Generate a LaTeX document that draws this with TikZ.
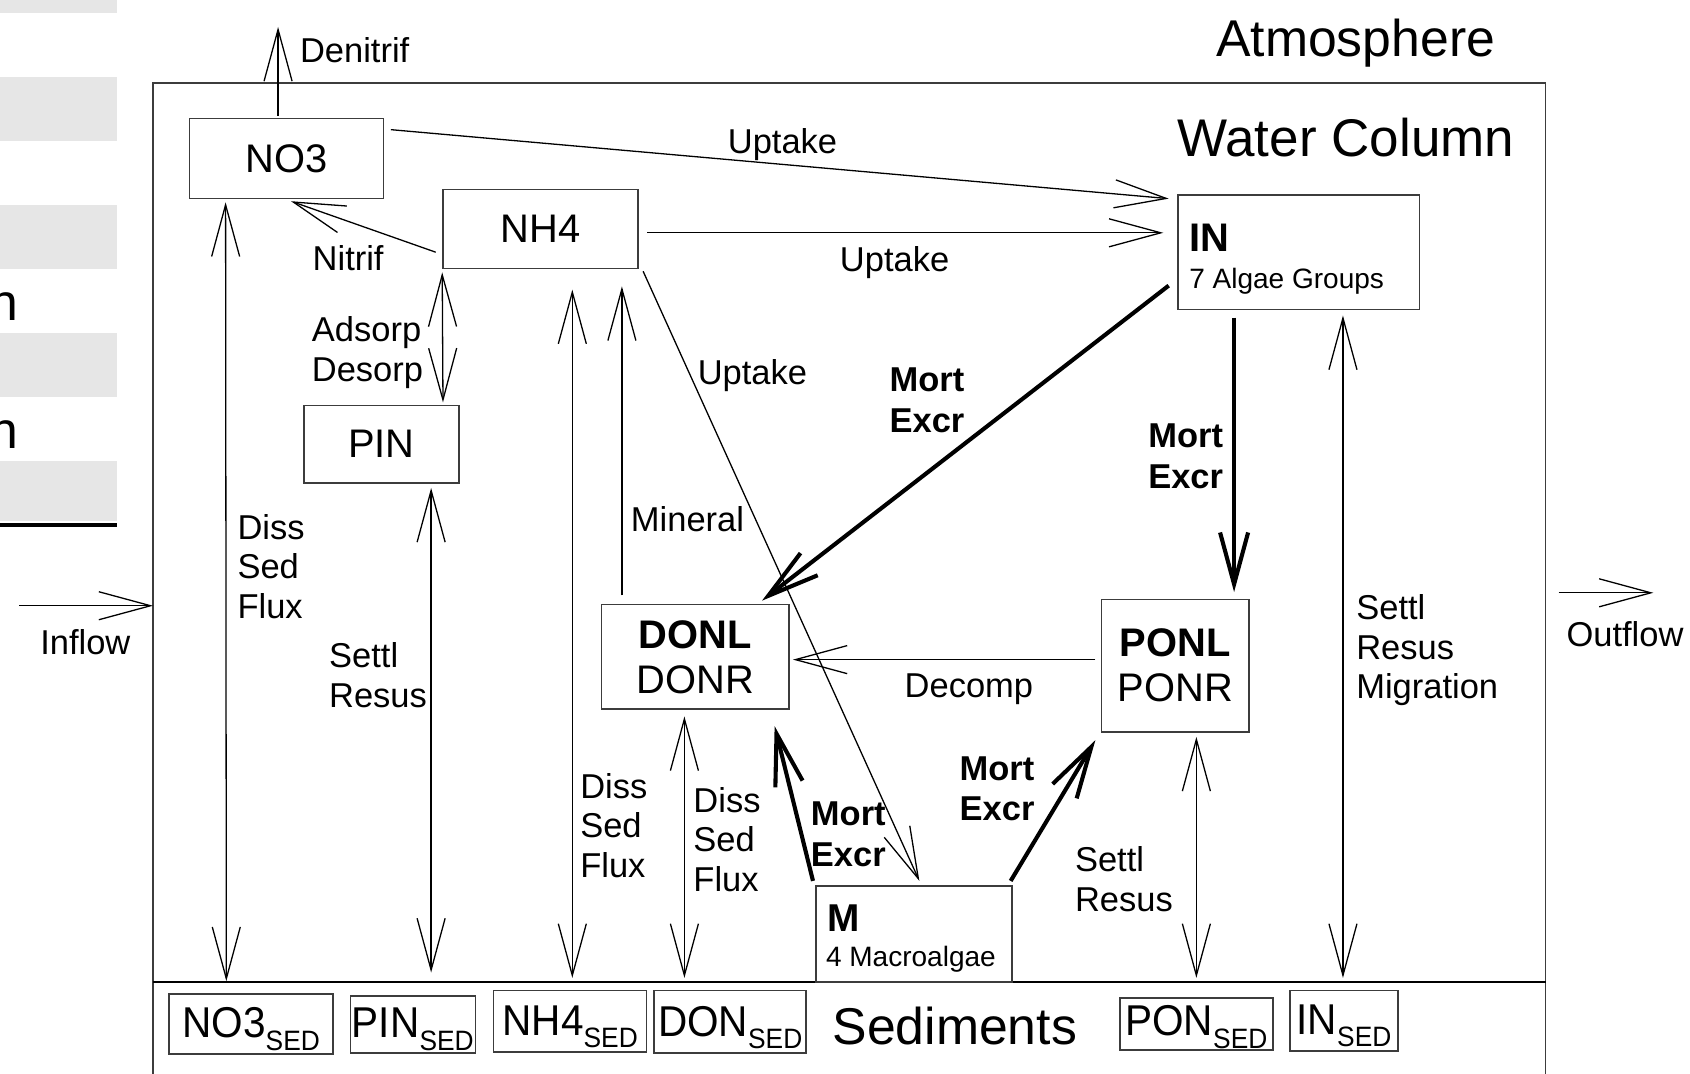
\documentclass[tikz,border=0pt]{standalone}
\usepackage{fontspec}
\setmainfont{Liberation Sans}
\usetikzlibrary{arrows.meta,calc}
\definecolor{panelgray}{RGB}{230,230,230}
\definecolor{framegray}{RGB}{60,60,60}
\newcommand{\sedtxt}[1]{\scalebox{0.94}[1]{\fontsize{20}{20}\selectfont #1\raisebox{-5.75pt}{\fontsize{13}{13}\selectfont SED}}}
\begin{document}
\begin{tikzpicture}[x={(0.5pt,0)},y={(0,-0.5pt)},
  box/.style={draw=framegray,line width=0.7pt,inner sep=0pt,font=\fontsize{18.5}{21}\selectfont,align=center},
  sbox/.style={draw=framegray,line width=0.7pt,inner sep=0pt,text depth=0pt},
  ln/.style={line width=0.6pt},
  thk/.style={line width=1.9pt},
  tipA/.style={-{Straight Barb[length=24pt,width=13pt]}},
  tipB/.style={{Straight Barb[length=24pt,width=13pt]}-{Straight Barb[length=24pt,width=13pt]}},
  lbl/.style={inner sep=0pt,anchor=base west,font=\fontsize{16}{18}\selectfont},
  blbl/.style={inner sep=0pt,anchor=base west,font=\fontsize{16}{18}\selectfont\bfseries},
  big/.style={inner sep=0pt,anchor=base west,font=\fontsize{24}{26}\selectfont},
  small/.style={inner sep=0pt,anchor=base west,font=\fontsize{13}{15}\selectfont}]
\useasboundingbox (0,0) rectangle (1568,996);
% left panel remnants
\fill[panelgray] (0,0) rectangle (109,11.6);
\fill[panelgray] (0,71.4) rectangle (109,130.8);
\fill[panelgray] (0,190.3) rectangle (109,249.6);
\fill[panelgray] (0,309) rectangle (109,368);
\fill[panelgray] (0,427.7) rectangle (109,483.4);
\fill[black] (0,485.5) rectangle (109,489);
\node[inner sep=0pt,anchor=base east,font=\fontsize{24}{24}\selectfont] (fragA) at (17,297) {n};
\node[inner sep=0pt,anchor=base east,font=\fontsize{24}{24}\selectfont] (fragB) at (17,416) {n};
% frame
\draw[framegray,line width=0.8pt] (142,996) -- (142,77) -- (1434,77) -- (1434,996);
\draw[ln] (142,911) -- (1434,911);
% titles
\node[big] (atmos) at (1128,52) {Atmosphere};
\node[big,font=\fontsize{24.6}{26}\selectfont] (water) at (1092,145) {Water Column};
\node[big] (sedim) at (772,969) {Sediments};
% boxes
\node[box,minimum width=90pt,minimum height=37pt] (no3) at (266,147) {NO3};
\node[box,minimum width=90.5pt,minimum height=36.5pt] (nh4) at (501.5,212.5) {NH4};
\node[box,minimum width=112pt,minimum height=53pt] (in) at (1205,234) {};
\node[inner sep=0pt,anchor=base west,font=\fontsize{18.5}{21}\selectfont\bfseries] (inT) at (1103,233) {IN};
\node[small] (inS) at (1103,268) {7 Algae Groups};
\node[box,minimum width=72pt,minimum height=36pt] (pin) at (354,412) {PIN};
\node[box,minimum width=87pt,minimum height=48.5pt] (don) at (645,609.5) {{\bfseries DONL}\\DONR};
\node[box,minimum width=68.5pt,minimum height=61.5pt] (pon) at (1090.5,617.5) {{\bfseries PONL}\\PONR};
\node[box,minimum width=91pt,minimum height=44.5pt] (mac) at (848,866.5) {};
\node[inner sep=0pt,anchor=base west,font=\fontsize{18}{21}\selectfont\bfseries] (macT) at (767,864) {M};
\node[small] (macS) at (766,897) {4 Macroalgae};
% sediment boxes
\node[sbox,minimum width=76pt,minimum height=28pt,text height=12.9pt] (no3s) at (233,950) {\sedtxt{NO3}};
\node[sbox,minimum width=58pt,minimum height=26.5pt,text height=12.2pt] (pins) at (383,950.5) {\sedtxt{PIN}};
\node[sbox,minimum width=71pt,minimum height=28.5pt,text height=13.1pt] (nh4s) at (529,947.5) {\sedtxt{NH4}};
\node[sbox,minimum width=70.5pt,minimum height=29pt,text height=13.3pt] (dons) at (677.5,948) {\sedtxt{DON}};
\node[sbox,minimum width=71pt,minimum height=24pt,text height=11pt] (pons) at (1110,950) {\sedtxt{PON}};
\node[sbox,minimum width=50pt,minimum height=28pt,text height=12.9pt] (ins) at (1247,947) {\sedtxt{IN}};
% connectors
\coordinate (atm) at (258,25);
\draw[ln,tipA] ($(no3.north)+(-8,-2)$) -- (atm);
\node[lbl] (denit) at (278,58) {Denitrif};
\draw[ln,tipA] ($(no3.north east)+(6,11)$) -- ($(in.north west)+(-8,4)$);
\node[lbl,anchor=base] (up1) at (726,142) {Uptake};
\draw[ln,tipA] ($(nh4.east)+(8,3.5)$) -- ($(in.west)+(-13,-18)$);
\node[lbl,anchor=base] (up2) at (830,252) {Uptake};
\draw[ln,tipA] ($(nh4.west)+(-6,21.5)$) -- ($(no3.south)+(4,2)$);
\node[lbl,anchor=base] (nitr) at (323,251) {Nitrif};
\draw[ln,tipB] ($(nh4.south west)+(0,3)$) -- ($(pin.north)+(57,-2)$);
\node[lbl] (ads1) at (289,317) {Adsorp};
\node[lbl] (ads2) at (289,354) {Desorp};
\draw[ln,tipB] ($(no3.south west)+(34,3)$) -- ($(no3s.north)+(-23,-11)$);
\node[lbl] (d1a) at (220,501) {Diss};
\node[lbl] (d1b) at (220,537) {Sed};
\node[lbl] (d1c) at (220,574) {Flux};
\draw[ln,tipB] ($(pin.south)+(46,4)$) -- ($(pins.north)+(17,-21)$);
\node[lbl] (s1a) at (305,619) {Settl};
\node[lbl] (s1b) at (305,656) {Resus};
\draw[ln,tipB] ($(nh4.south)+(29.5,19)$) -- ($(nh4s.north)+(2,-11)$);
\node[lbl] (d2a) at (538,741) {Diss};
\node[lbl] (d2b) at (538,777) {Sed};
\node[lbl] (d2c) at (538,814) {Flux};
\draw[ln,tipA] ($(don.north)+(-68,-8)$) -- ($(nh4.south)+(75.5,16)$);
\node[lbl] (mine) at (585,493) {Mineral};
\draw[ln,tipA] ($(nh4.south east)+(4,2)$) -- ($(mac.north)+(5,-4)$);
\node[lbl] (up3) at (647,357) {Uptake};
\draw[thk,tipA] ($(in.west)+(-8,31)$) -- ($(don.north)+(62,-3)$);
\node[blbl] (me1a) at (825,363) {Mort};
\node[blbl] (me1b) at (825,401) {Excr};
\draw[thk,tipA] ($(in.south)+(-60,7)$) -- ($(pon.north)+(54.5,-6)$);
\node[blbl] (me2a) at (1065,415) {Mort};
\node[blbl] (me2b) at (1065,453) {Excr};
\draw[ln,tipB] ($(in.south)+(41,5)$) -- ($(ins.north)+(-1,-11)$);
\node[lbl] (s3a) at (1258,575) {Settl};
\node[lbl] (s3b) at (1258,612) {Resus};
\node[lbl] (s3c) at (1258,648) {Migration};
\draw[ln,tipA] ($(pon.west)+(-5,-5.5)$) -- ($(don.east)+(3,2.5)$);
\node[lbl] (deco) at (839,647) {Decomp};
\draw[ln,tipB] ($(don.south)+(-10,6)$) -- ($(dons.north)+(-42.5,-11)$);
\node[lbl] (d3a) at (643,754) {Diss};
\node[lbl] (d3b) at (643,790) {Sed};
\node[lbl] (d3c) at (643,827) {Flux};
\draw[thk,tipA] ($(mac.north west)+(-2,-4)$) -- ($(don.south east)+(-14,15)$);
\node[blbl] (me3a) at (752,766) {Mort};
\node[blbl] (me3b) at (752,804) {Excr};
\draw[thk,tipA] ($(mac.north east)+(-2,-4)$) -- ($(pon.south west)+(-5,7)$);
\node[blbl] (me4a) at (890,724) {Mort};
\node[blbl] (me4b) at (890,761) {Excr};
\draw[ln,tipB] ($(pon.south)+(19.5,4)$) -- ($(pons.north)+(0,-18)$);
\node[lbl] (s2a) at (997,809) {Settl};
\node[lbl] (s2b) at (997,846) {Resus};
% inflow / outflow
\coordinate (inflowS) at (18,562);
\coordinate (inflowE) at (142,562);
\draw[ln,tipA] (inflowS) -- (inflowE);
\node[lbl] (infl) at (37,607) {Inflow};
\coordinate (outS) at (1446,550);
\coordinate (outE) at (1534,550);
\draw[ln,tipA] (outS) -- (outE);
\node[lbl] (outf) at (1453,600) {Outflow};
\end{tikzpicture}
\end{document}
